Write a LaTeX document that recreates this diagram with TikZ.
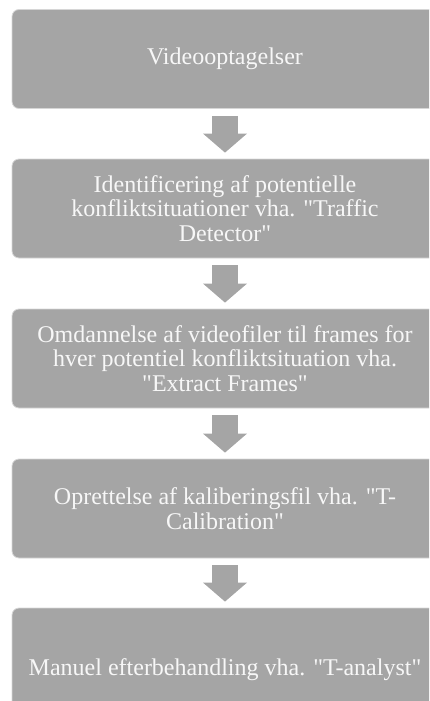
\documentclass[tikz,border=0pt]{standalone}
\usepackage{fontspec}
\setmainfont{Liberation Serif}[Ligatures=TeXOff]
\usepackage{xcolor}
\usepackage{tikz}
\usetikzlibrary{arrows.meta}
\definecolor{cbox}{HTML}{A5A5A5}
\definecolor{cedge}{HTML}{D6D6D6}
\definecolor{ctext}{HTML}{F7F7F7}
\tikzset{
  stepbox/.style={fill=cbox,draw=cedge,line width=0.8pt,rounded corners=7pt,inner sep=0pt,
    minimum width=426pt,minimum height=99pt,align=center,text=ctext,
    font=\fontsize{24}{24.5}\selectfont},
  flow/.style={cbox,line width=26pt,-{Triangle[width=44pt,length=19pt,line width=0pt]},
    shorten <=7pt,shorten >=6pt}
}

\begin{document}
\begin{tikzpicture}[x=1pt,y=-1pt]
\useasboundingbox (0,0) rectangle (429,701);
\clip (0,0) rectangle (429,701);

% ===== steps =====
\node[stepbox] (b1) at (225,59) {Videooptagelser};
\node[stepbox] (b2) at (225,208.5) {Identificering af potentielle\\konfliktsituationer vha. "Traffic\\Detector"};
\node[stepbox] (b3) at (225,358.5) {Omdannelse af videofiler til frames for\\hver potentiel konfliktsituation vha.\\"Extract Frames"};
\node[stepbox] (b4) at (225,508.5) {Oprettelse af kaliberingsfil vha. "T-\\Calibration"};
\node[stepbox,minimum height=124pt] (b5) at (225,670) {Manuel efterbehandling vha. "T-analyst"};

% ===== block arrows =====
\draw[flow] (b1.south) -- (b2.north);
\draw[flow] (b2.south) -- (b3.north);
\draw[flow] (b3.south) -- (b4.north);
\draw[flow] (b4.south) -- (b5.north);

\end{tikzpicture}
\end{document}
